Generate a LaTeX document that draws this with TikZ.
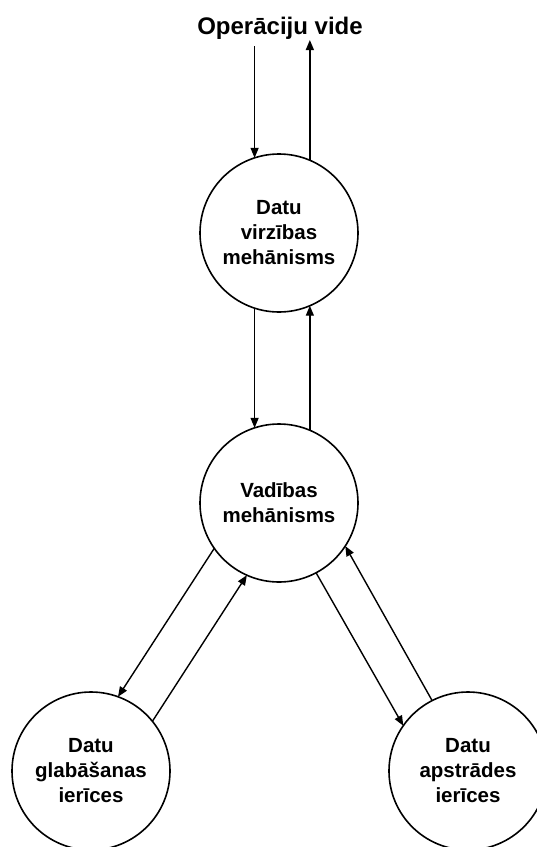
\documentclass[tikz,border=0pt]{standalone}
\usepackage{fontspec}
\setmainfont{Liberation Sans}
\usetikzlibrary{arrows.meta}
\begin{document}
\begin{tikzpicture}[x=1pt,y=-1pt,
  unit/.style={circle, draw, line width=1.6pt, minimum size=158pt,
    inner sep=0pt, outer sep=0pt, align=center,
    font=\fontsize{20.5}{25}\bfseries\selectfont},
  flow/.style={line width=1.4pt, -{Triangle[length=10pt,width=8pt]}},
  heading/.style={font=\fontsize{24}{28}\bfseries\selectfont, inner sep=0pt}
]
\useasboundingbox (0,0) rectangle (537,847);
\clip (0,0) rectangle (537,847);

% environment label
\node[heading, anchor=base] (env) at (280,34) {Operāciju vide};

% processing units
\node[unit] (c1) at (279,233) {Datu\\virzības\\mehānisms};
\node[unit] (c2) at (279,503) {Vadības\\mehānisms};
\node[unit] (c3) at (91,771)  {Datu\\glabāšanas\\ierīces};
\node[unit] (c4) at (468,771) {Datu\\apstrādes\\ierīces};

% free ends towards the environment
\path (c1.108 |- 0,46) coordinate (envin);
\path (c1.67 |- 0,40) coordinate (envout);

% data flows
\draw[flow] (envin) -- (c1.108);
\draw[flow] (c1.67) -- (envout);
\draw[flow] (c1.252) -- (c2.108);
\draw[flow] (c2.67) -- (c1.293);
\draw[flow] (c2.215) -- (c3.70);
\draw[flow] (c3.39) -- (c2.246);
\draw[flow] (c2.298) -- (c4.145);
\draw[flow] (c4.117) -- (c2.327);
\end{tikzpicture}
\end{document}
